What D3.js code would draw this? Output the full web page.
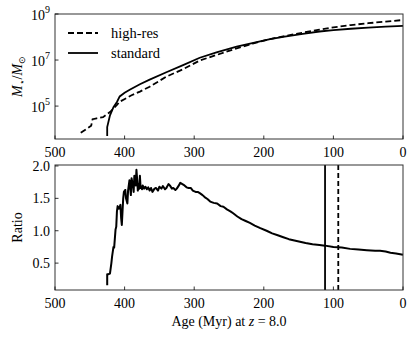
<!DOCTYPE html>
<html>
<head>
<meta charset="utf-8">
<script src="https://cdn.jsdelivr.net/npm/d3@7"></script>
<style>
  body { margin: 0; background: #fff; }
</style>
</head>
<body>
<div id="chart"></div>
<script>
// Data (age in Myr, log10 of stellar mass)
var stdAge  = [425, 425, 421, 416, 411, 407, 400, 392, 378, 364, 340, 316, 292, 268, 239, 215, 191, 170, 144, 120, 100, 75, 50, 25, 0];
var stdLogM = [3.7, 4.09, 4.6, 4.95, 5.18, 5.42, 5.58, 5.72, 5.95, 6.15, 6.47, 6.78, 7.1, 7.33, 7.58, 7.75, 7.91, 8.02, 8.14, 8.24, 8.3, 8.36, 8.41, 8.45, 8.48];

var hrAge  = [463, 453, 448, 446, 440, 431, 421, 411, 407, 399, 390, 378, 364, 340, 316, 292, 268, 239, 215, 191, 170, 144, 120, 100, 75, 50, 25, 0];
var hrLogM = [3.84, 4.04, 4.15, 4.43, 4.47, 4.52, 4.74, 5.05, 5.19, 5.32, 5.47, 5.63, 5.84, 6.28, 6.6, 6.98, 7.22, 7.51, 7.72, 7.91, 8.04, 8.19, 8.32, 8.42, 8.52, 8.6, 8.67, 8.74];

var ratioAge = [425, 425, 423, 421, 419, 418, 416, 415, 413, 412, 411, 410, 408, 406, 405, 404, 402, 401, 399, 398, 396, 395, 393, 391, 390, 388, 387, 386, 384, 383, 382, 381, 380, 379, 378, 377, 376, 375, 374, 372, 370, 368, 366, 364, 362, 360, 357, 355, 352, 350, 347, 345, 342, 340, 337, 335, 332, 330, 327, 325, 322, 320, 317, 314, 311, 308, 305, 302, 298, 295, 292, 288, 285, 281, 277, 272, 267, 262, 258, 253, 248, 244, 238, 232, 226, 220, 213, 205, 196, 188, 180, 172, 164, 156, 148, 140, 130, 120, 112, 100, 88, 76, 64, 52, 40, 33, 25, 18, 10, 0];
var ratioVal = [0.16, 0.33, 0.33, 0.34, 0.5, 0.6, 0.75, 0.74, 1.02, 1.06, 1.3, 1.38, 1.34, 1.4, 1.2, 1.09, 1.5, 1.6, 1.63, 1.5, 1.42, 1.62, 1.78, 1.55, 1.81, 1.7, 1.6, 1.85, 1.7, 1.94, 1.8, 1.62, 1.72, 1.65, 1.85, 1.66, 1.68, 1.64, 1.7, 1.65, 1.68, 1.64, 1.67, 1.62, 1.66, 1.6, 1.65, 1.66, 1.62, 1.68, 1.65, 1.69, 1.64, 1.66, 1.72, 1.7, 1.65, 1.66, 1.63, 1.65, 1.7, 1.74, 1.72, 1.7, 1.67, 1.66, 1.66, 1.62, 1.6, 1.6, 1.58, 1.55, 1.52, 1.49, 1.45, 1.43, 1.42, 1.38, 1.37, 1.33, 1.3, 1.27, 1.22, 1.18, 1.15, 1.12, 1.08, 1.04, 1.0, 0.96, 0.93, 0.9, 0.87, 0.85, 0.83, 0.81, 0.79, 0.78, 0.77, 0.75, 0.74, 0.72, 0.71, 0.7, 0.69, 0.69, 0.68, 0.66, 0.65, 0.63];

// vertical markers in the ratio panel
var markAge = [112, 93];
var markDash = ["", "5,3"];

var xTicks = [500, 400, 300, 200, 100, 0];
var massTicks = [5, 7, 9];
var ratioTicks = [0.5, 1.0, 1.5, 2.0];
var legendNames = ["high-res", "standard"];

var svgWidth = 415;
var svgHeight = 339;

var svg = d3.select("#chart")
  .append("svg")
  .attr("width", svgWidth)
  .attr("height", svgHeight)
  .style("font-family", "'Liberation Serif', serif");

var left = 55, right = 403;
var top1 = 14, bot1 = 139;
var top2 = 165, bot2 = 290;

var x = d3.scaleLinear().domain([500, 0]).range([left, right]);
var yMass = d3.scaleLog().domain([Math.pow(10, 3.57), 1e9]).range([bot1, top1]);
var yRatio = d3.scaleLinear().domain([0.085, 2.015]).range([bot2, top2]);

function frame(y0, y1) {
  svg.append("rect")
    .attr("x", left).attr("y", y0)
    .attr("width", right - left).attr("height", y1 - y0)
    .attr("fill", "none").attr("stroke", "#333").attr("stroke-width", 1);
}

// x axes for both panels
function xAxis(yb) {
  var g = svg.append("g");
  xTicks.forEach(function(t) {
    g.append("line")
      .attr("x1", x(t)).attr("x2", x(t))
      .attr("y1", yb).attr("y2", yb - 3.5)
      .attr("stroke", "#000").attr("stroke-width", 0.8);
    g.append("text")
      .attr("x", x(t)).attr("y", yb + 18)
      .attr("text-anchor", "middle")
      .attr("font-size", 14)
      .text(t);
  });
}

// ---- top panel
var line1 = d3.line()
  .x(function(d) { return x(d[0]); })
  .y(function(d) { return yMass(Math.pow(10, d[1])); });

svg.append("path")
  .datum(d3.zip(hrAge, hrLogM))
  .attr("d", line1)
  .attr("fill", "none")
  .attr("stroke", "#000")
  .attr("stroke-width", 1.8)
  .attr("stroke-dasharray", "6,3");

svg.append("path")
  .datum(d3.zip(stdAge, stdLogM))
  .attr("d", line1)
  .attr("fill", "none")
  .attr("stroke", "#000")
  .attr("stroke-width", 1.8);

frame(top1, bot1);
xAxis(bot1);

massTicks.forEach(function(e) {
  var yy = yMass(Math.pow(10, e));
  svg.append("line")
    .attr("x1", left).attr("x2", left + 3.5)
    .attr("y1", yy).attr("y2", yy)
    .attr("stroke", "#000").attr("stroke-width", 0.8);
  var t = svg.append("text")
    .attr("x", left - 5).attr("y", yy + 6)
    .attr("text-anchor", "end")
    .attr("font-size", 14);
  t.append("tspan").text("10");
  t.append("tspan").attr("dy", -7).attr("font-size", 10).text(e);
});

// legend
legendNames.forEach(function(name, i) {
  var ly = 33 + i * 20;
  svg.append("line")
    .attr("x1", 68).attr("x2", 98)
    .attr("y1", ly).attr("y2", ly)
    .attr("stroke", "#000").attr("stroke-width", 1.8)
    .attr("stroke-dasharray", i == 0 ? "6,3" : null);
  svg.append("text")
    .attr("x", 111).attr("y", ly + 4.5)
    .attr("font-size", 14.5)
    .text(name);
});

// y label top
var yl = svg.append("text")
  .attr("transform", "translate(22," + ((top1 + bot1) / 2) + ") rotate(-90)")
  .attr("text-anchor", "middle")
  .attr("font-size", 14);
yl.append("tspan").attr("font-style", "italic").text("M");
yl.append("tspan").attr("dy", 3).attr("font-size", 9).text("\u22C6");
yl.append("tspan").attr("dy", -3).text("/");
yl.append("tspan").attr("font-style", "italic").text("M");
yl.append("tspan").attr("dy", 3).attr("font-size", 9).text("\u2299");

// ---- bottom panel
var line2 = d3.line()
  .x(function(d) { return x(d[0]); })
  .y(function(d) { return yRatio(d[1]); });

svg.append("path")
  .datum(d3.zip(ratioAge, ratioVal))
  .attr("d", line2)
  .attr("fill", "none")
  .attr("stroke", "#000")
  .attr("stroke-width", 2)
  .attr("stroke-linejoin", "round");

markAge.forEach(function(a, i) {
  svg.append("line")
    .attr("x1", x(a)).attr("x2", x(a))
    .attr("y1", top2).attr("y2", bot2)
    .attr("stroke", "#000").attr("stroke-width", 1.8)
    .attr("stroke-dasharray", markDash[i] || null);
});

frame(top2, bot2);
xAxis(bot2);

ratioTicks.forEach(function(v) {
  var yy = yRatio(v);
  svg.append("line")
    .attr("x1", left).attr("x2", left + 3.5)
    .attr("y1", yy).attr("y2", yy)
    .attr("stroke", "#000").attr("stroke-width", 0.8);
  svg.append("text")
    .attr("x", left - 5).attr("y", yy + 5)
    .attr("text-anchor", "end")
    .attr("font-size", 14)
    .text(v.toFixed(1));
});

svg.append("text")
  .attr("transform", "translate(22," + ((top2 + bot2) / 2) + ") rotate(-90)")
  .attr("text-anchor", "middle")
  .attr("font-size", 14)
  .text("Ratio");

var xl = svg.append("text")
  .attr("x", (left + right) / 2).attr("y", 326)
  .attr("text-anchor", "middle")
  .attr("font-size", 14);
xl.append("tspan").text("Age (Myr) at ");
xl.append("tspan").attr("font-style", "italic").text("z");
xl.append("tspan").text(" = 8.0");
</script>
</body>
</html>
